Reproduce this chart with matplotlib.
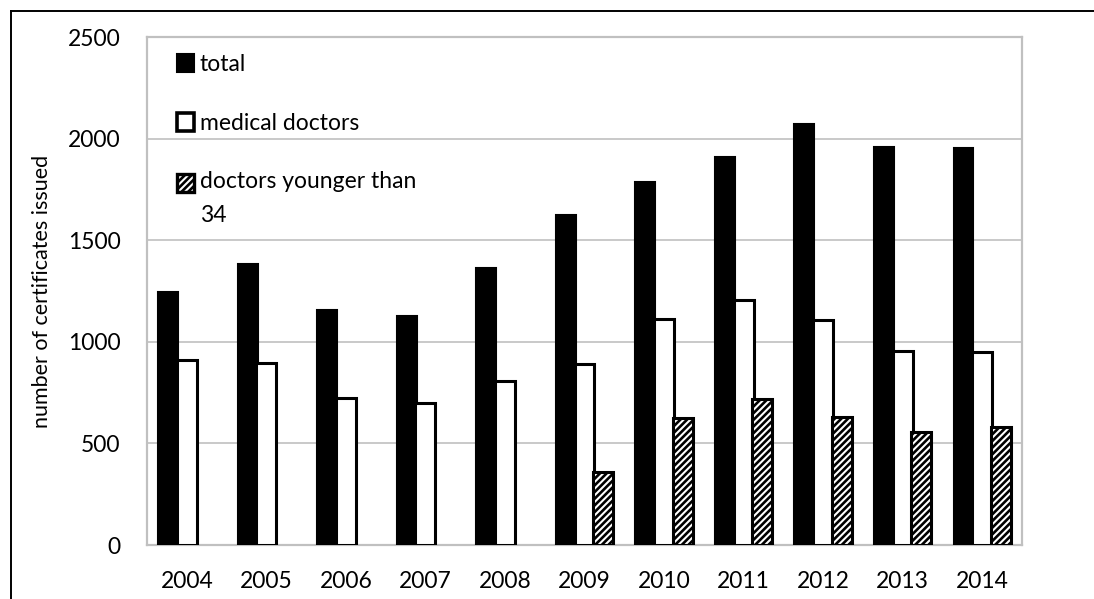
import numpy as np
import matplotlib
matplotlib.use("Agg")
import matplotlib.pyplot as plt
from matplotlib.patches import Rectangle
from matplotlib.lines import Line2D

plt.rcParams['font.family'] = ['Lato', 'DejaVu Sans']
plt.rcParams['hatch.linewidth'] = 1.9

years = ['2004', '2005', '2006', '2007', '2008', '2009',
         '2010', '2011', '2012', '2013', '2014']
total = [1245, 1385, 1155, 1125, 1365, 1625, 1785, 1910, 2070, 1960, 1955]
medical = [910, 895, 725, 700, 805, 890, 1110, 1205, 1105, 955, 950]
young = [np.nan, np.nan, np.nan, np.nan, np.nan, 360, 625, 720, 630, 555, 580]

series_labels = ['total', 'medical doctors', 'doctors younger than', '34']
y_ticks = [0, 500, 1000, 1500, 2000, 2500]

W, H = 1094, 599
fig = plt.figure(figsize=(W / 100, H / 100), dpi=100)
ax = fig.add_axes([147 / W, 1 - 545 / H, (1022 - 147) / W, (545 - 37) / H])

x = np.arange(len(years))
bw = 0.25
off = 0.235
ax.bar(x - off, total, bw, color='black', edgecolor='black', lw=1.5, zorder=3)
ax.bar(x, medical, bw, color='white', edgecolor='black', lw=2.2, zorder=3)
ax.bar(x + off, young, bw, color='white', edgecolor='black', lw=2.2,
       hatch='/////', zorder=3)

ax.set_xlim(-0.5, len(years) - 0.5)
ax.set_ylim(0, 2500)
ax.set_yticks(y_ticks)
ax.set_xticks(x)
ax.set_xticklabels(years)
ax.tick_params(axis='both', length=0, labelsize=16.5, colors='black')
ax.tick_params(axis='y', pad=19)
ax.tick_params(axis='x', pad=19)
ax.yaxis.grid(True, color='#c0c0c0', lw=1.2)
ax.set_axisbelow(True)
for s in ax.spines.values():
    s.set_color('#c0c0c0')
    s.set_linewidth(1.6)

ax.set_ylabel('number of certificates issued', fontsize=15.5, va='center')
ax.yaxis.set_label_coords((42 - 147) / (1022 - 147), 0.5)

# legend drawn inside the plot area, Excel style
def ax_x(px):
    return (px - 147) / (1022 - 147)

def ax_y(py):
    return (545 - py) / (545 - 37)

hx, hs_w, hs_h = ax_x(177), 17 / 875, 17 / 508
tx = ax_x(200)
handles = [
    dict(fc='black', ec='black', lw=1.5, hatch=None, bottom=71.5),
    dict(fc='white', ec='black', lw=2.6, hatch=None, bottom=130.5),
    dict(fc='white', ec='black', lw=2.4, hatch='/////', bottom=191.5),
]
for h in handles:
    ax.add_patch(Rectangle((hx, ax_y(h['bottom'])), hs_w, hs_h,
                           transform=ax.transAxes, facecolor=h['fc'],
                           edgecolor=h['ec'], lw=h['lw'], hatch=h['hatch'],
                           clip_on=False, zorder=5))
for lab, base in zip(series_labels, [70.7, 130, 188.3, 221.7]):
    ax.text(tx, ax_y(base), lab, transform=ax.transAxes, fontsize=16.5,
            va='baseline', ha='left', zorder=5)

# outer frame lines
fig.add_artist(Line2D([11 / W, 1], [1 - 10.5 / H, 1 - 10.5 / H],
                      transform=fig.transFigure, color='black', lw=1.4))
fig.add_artist(Line2D([11 / W, 11 / W], [0, 1 - 10.5 / H],
                      transform=fig.transFigure, color='black', lw=1.4))

fig.savefig('out.png', dpi=100)
